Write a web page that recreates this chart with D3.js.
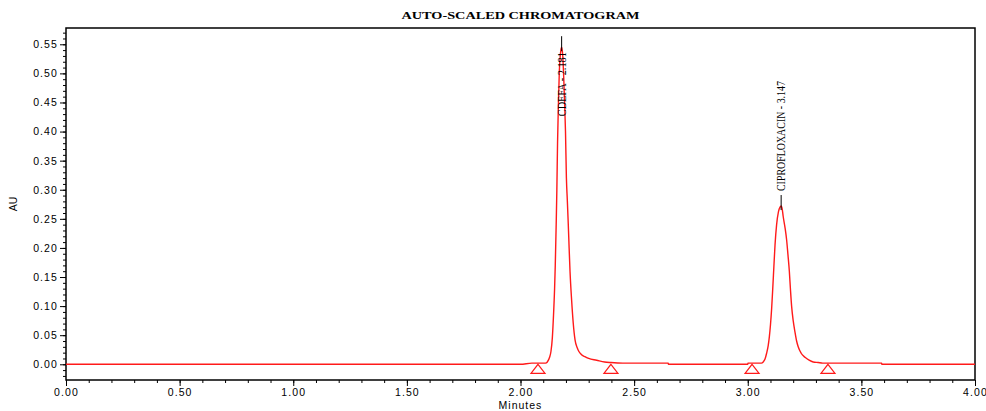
<!DOCTYPE html>
<html>
<head>
<meta charset="utf-8">
<script src="https://cdn.jsdelivr.net/npm/d3@7"></script>
<style>
  body { margin: 0; background: #fff; }
  svg { display: block; }
  .tick text { font-family: "Liberation Sans", Arial, sans-serif; font-size: 10.5px; letter-spacing: 1.1px; fill: #000; }
</style>
</head>
<body>
<div id="chart"></div>
<script>
var traceTime = [0.00, 1.00, 2.00, 2.05, 2.110, 2.118, 2.128, 2.134, 2.140, 2.145, 2.150, 2.153, 2.157, 2.160, 2.163, 2.167, 2.171, 2.176, 2.181,
  2.186, 2.190, 2.194, 2.198, 2.202, 2.206, 2.210, 2.214, 2.218, 2.225, 2.232, 2.240, 2.250, 2.257, 2.270, 2.284, 2.300,
  2.335, 2.370, 2.398, 2.45, 2.65, 2.651, 3.00, 3.001, 3.060, 3.068, 3.076, 3.083, 3.090, 3.095, 3.100, 3.105, 3.110, 3.115, 3.120, 3.127, 3.135, 3.142,
  3.147, 3.152, 3.156, 3.164, 3.171, 3.177, 3.183, 3.188, 3.193, 3.200, 3.208, 3.215, 3.222, 3.235, 3.252, 3.270, 3.288, 3.310, 3.33,
  3.589, 3.590, 4.00];
var traceAU = [0.000, 0.000, 0.000, 0.002, 0.002, 0.004, 0.012, 0.022, 0.045, 0.082, 0.130, 0.170, 0.240, 0.300, 0.380, 0.450, 0.505, 0.535, 0.545,
  0.530, 0.495, 0.450, 0.400, 0.320, 0.282, 0.243, 0.200, 0.159, 0.110, 0.071, 0.042, 0.028, 0.022, 0.016, 0.013, 0.010,
  0.007, 0.004, 0.003, 0.002, 0.002, 0.000, 0.000, 0.002, 0.002, 0.004, 0.009, 0.019, 0.032, 0.047, 0.068, 0.095, 0.130, 0.168, 0.205, 0.240, 0.262, 0.270,
  0.272, 0.266, 0.254, 0.235, 0.214, 0.188, 0.160, 0.128, 0.100, 0.075, 0.055, 0.040, 0.030, 0.019, 0.012, 0.007, 0.004, 0.003, 0.002,
  0.002, 0.000, 0.000];

var peakNames = ["CDEFA", "CIPROFLOXACIN"];
var peakTimes = [2.181, 3.147];
var peakHeights = [0.545, 0.272];

// marcas de inicio / fin de integracion
var markTimes = [2.077, 2.398, 3.019, 3.353];

var xTickValues = [0, 0.5, 1, 1.5, 2, 2.5, 3, 3.5, 4];
var yTickValues = [0, 0.05, 0.10, 0.15, 0.20, 0.25, 0.30, 0.35, 0.40, 0.45, 0.50, 0.55];

var W = 986, H = 411;
var margin = {left: 66, right: 11, top: 28, bottom: 31};
var width = W - margin.left - margin.right;
var height = H - margin.top - margin.bottom;

var x = d3.scaleLinear().domain([0, 4]).range([0, width]);
var y = d3.scaleLinear().domain([-0.027, 0.578]).range([height, 0]);

var svg = d3.select("#chart").append("svg")
    .attr("width", W).attr("height", H);

svg.append("text")
    .attr("x", margin.left + width / 2)
    .attr("y", 19)
    .attr("text-anchor", "middle")
    .attr("textLength", 238)
    .attr("lengthAdjust", "spacingAndGlyphs")
    .style("font-family", "'Liberation Serif', 'Times New Roman', serif")
    .style("font-weight", "bold")
    .style("font-size", "11px")
    .text("AUTO-SCALED CHROMATOGRAM");

var g = svg.append("g")
    .attr("transform", "translate(" + margin.left + "," + margin.top + ")");

// Ticks menores
g.append("g")
    .call(d3.axisLeft(y).tickValues(d3.range(-0.02, 0.575, 0.01)).tickSize(3).tickFormat(""))
    .call(function(s) { s.select(".domain").remove(); });
g.append("g")
    .attr("transform", "translate(0," + height + ")")
    .call(d3.axisBottom(x).tickValues(d3.range(0.1, 4, 0.1)).tickSize(3).tickFormat(""))
    .call(function(s) { s.select(".domain").remove(); });

// Ejes principales
g.append("g")
    .attr("class", "y axis")
    .call(d3.axisLeft(y).tickValues(yTickValues).tickSize(6).tickPadding(2).tickFormat(d3.format(".2f")))
    .call(function(s) { s.select(".domain").remove(); });

g.append("g")
    .attr("class", "x axis")
    .attr("transform", "translate(0," + height + ")")
    .call(d3.axisBottom(x).tickValues(xTickValues).tickSize(6).tickPadding(3).tickFormat(d3.format(".2f")))
    .call(function(s) { s.select(".domain").remove(); });

// Marco
g.append("rect")
    .attr("width", width).attr("height", height)
    .attr("fill", "none").attr("stroke", "#000").attr("stroke-width", 1.5);

// Linea del cromatograma
var trace = traceTime.map(function(t, i) { return [t, traceAU[i]]; });
var line = d3.line()
    .x(function(d) { return x(d[0]); })
    .y(function(d) { return y(d[1]); })
    .curve(d3.curveMonotoneX);

g.append("path")
    .datum(trace)
    .attr("fill", "none")
    .attr("stroke", "#ff1a1a")
    .attr("stroke-width", 1.4)
    .attr("d", line);

// Triangulos de integracion
g.selectAll(".mark")
    .data(markTimes)
    .enter().append("path")
    .attr("class", "mark")
    .attr("transform", function(d) { return "translate(" + x(d) + "," + y(0) + ")"; })
    .attr("d", "M0,0L7,9L-7,9Z")
    .attr("fill", "none")
    .attr("stroke", "#ff1a1a")
    .attr("stroke-width", 1.2);

// Etiquetas de picos
var labelLen = [64, 110];
peakTimes.forEach(function(t, i) {
    var px = x(t);
    var top = y(peakHeights[i]);
    g.append("line")
        .attr("x1", px).attr("x2", px)
        .attr("y1", top + 4).attr("y2", top - 11)
        .attr("stroke", "#000").attr("stroke-width", 1);
    var ty = top - 15;
    g.append("text")
        .attr("transform", "translate(" + (px + 4) + "," + (i === 0 ? top + 69 : ty) + ") rotate(-90)")
        .attr("textLength", labelLen[i])
        .attr("lengthAdjust", "spacingAndGlyphs")
        .style("font-family", "'Liberation Serif', 'Times New Roman', serif")
        .style("font-size", "12px")
        .text(peakNames[i] + " - " + t.toFixed(3));
});

// Titulos de ejes
svg.append("text")
    .attr("x", margin.left + width / 2)
    .attr("y", 409)
    .attr("text-anchor", "middle")
    .style("font-family", "'Liberation Sans', Arial, sans-serif")
    .style("font-size", "10.5px")
    .style("letter-spacing", "1px")
    .text("Minutes");

svg.append("text")
    .attr("transform", "translate(17," + (margin.top + height / 2) + ") rotate(-90)")
    .attr("text-anchor", "middle")
    .style("font-family", "'Liberation Sans', Arial, sans-serif")
    .style("font-size", "10.5px")
    .text("AU");
</script>
</body>
</html>
